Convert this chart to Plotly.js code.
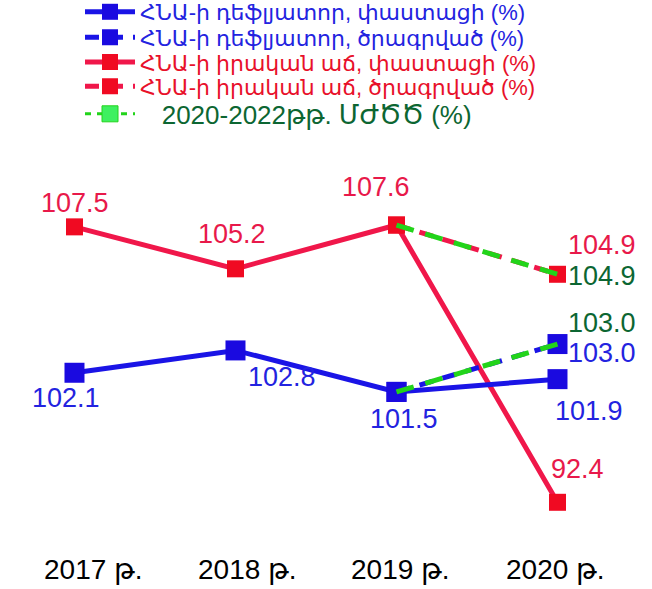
<!DOCTYPE html>
<html>
<head>
<meta charset="utf-8">
<script src="https://cdn.plot.ly/plotly-3.0.1.min.js"></script>
<style>html,body{margin:0;padding:0;background:#fff;}#chart{width:652px;height:589px;}</style>
</head>
<body>
<div id="chart"></div>
<script>
// ---- data ----
const categories = ['2017', '2018', '2019', '2020'];
const tickLabels = ['2017 թ.', '2018 թ.', '2019 թ.', '2020 թ.'];
const projCategories = ['2019', '2020'];

const deflatorActual = [102.1, 102.8, 101.5, 101.9];
const deflatorProjected = [101.5, 103.0];
const growthActual = [107.5, 105.2, 107.6, 92.4];
const growthProjected = [107.6, 104.9];
const mtefGrowth = [107.6, 104.9];
const mtefDeflator = [101.5, 103.0];

const seriesNames = [
  'ՀՆԱ-ի դեֆլյատոր, փաստացի (%)',
  'ՀՆԱ-ի դեֆլյատոր, ծրագրված (%)',
  'ՀՆԱ-ի իրական աճ, փաստացի (%)',
  'ՀՆԱ-ի իրական աճ, ծրագրված (%)',
  '2020-2022թթ. ՄԺԾԾ (%)'
];

// ---- styles ----
const FONT = 'Liberation Sans, Arial, DejaVu Sans, sans-serif';
const BLUE_LINE = '#1a14e6', BLUE_MK = '#1a0ae0', BLUE_TXT = '#2323e0';
const RED_LINE = '#f0174a', RED_MK = '#f00a22', RED_TXT = '#e8194a', RED_LEG = '#e8102a';
const GREEN_LINE = '#22d41a', GREEN_TXT = '#0c6632';

const traces = [
  {x: categories, y: deflatorActual, yaxis: 'y2', name: seriesNames[0], legend: 'legend', mode: 'lines+markers',
   line: {color: BLUE_LINE, width: 5}, marker: {symbol: 'square', size: 20, color: BLUE_MK}},
  {x: projCategories, y: deflatorProjected, yaxis: 'y2', name: seriesNames[1], legend: 'legend2', mode: 'lines+markers',
   line: {color: BLUE_LINE, width: 5, dash: '14px,10px'}, marker: {symbol: 'square', size: 20, color: BLUE_MK}},
  {x: categories, y: growthActual, yaxis: 'y', name: seriesNames[2], legend: 'legend3', mode: 'lines+markers',
   line: {color: RED_LINE, width: 5}, marker: {symbol: 'square', size: 17, color: RED_MK}},
  {x: projCategories, y: growthProjected, yaxis: 'y', name: seriesNames[3], legend: 'legend4', mode: 'lines+markers',
   line: {color: RED_LINE, width: 5, dash: '14px,10px'}, marker: {symbol: 'square', size: 17, color: RED_MK}},
  {x: projCategories, y: mtefGrowth, yaxis: 'y', showlegend: false, mode: 'lines', hoverinfo: 'skip',
   line: {color: GREEN_LINE, width: 5, dash: '18px,12px'}},
  {x: projCategories, y: mtefDeflator, yaxis: 'y2', showlegend: false, mode: 'lines', hoverinfo: 'skip',
   line: {color: GREEN_LINE, width: 5, dash: '18px,12px'}},
  // legend entry for the MTEF series
  {x: [null], y: [null], yaxis: 'y', mode: 'lines+markers', legend: 'legend5',
   name: '\u00a0\u00a0\u00a0' + seriesNames[4],
   line: {color: GREEN_LINE, width: 3, dash: '6px,6px'},
   marker: {symbol: 'square', size: 16, color: '#3ef060', line: {color: '#22d41a', width: 1}}}
];

// value labels (pixel offsets from the point)
function lab(cat, y, yref, color, xs, ys) {
  return {x: categories.indexOf(cat), y: y, xref: 'x', yref: yref, text: y.toFixed(1), showarrow: false,
          xshift: xs, yshift: ys, font: {family: FONT, size: 27, color: color}};
}
const annotations = [
  lab(categories[0], growthActual[0], 'y', RED_TXT, 1, 24),
  lab(categories[1], growthActual[1], 'y', RED_TXT, -3, 35),
  lab(categories[2], growthActual[2], 'y', RED_TXT, -20, 38),
  lab(categories[3], growthActual[3], 'y', RED_TXT, 20, 33),
  lab(categories[0], deflatorActual[0], 'y2', BLUE_TXT, -8, -25),
  lab(categories[1], deflatorActual[1], 'y2', BLUE_TXT, 47, -27),
  lab(categories[2], deflatorActual[2], 'y2', BLUE_TXT, 8, -27),
  lab(categories[3], deflatorActual[3], 'y2', BLUE_TXT, 32, -32),
  lab(projCategories[1], growthProjected[1], 'y', RED_TXT, 45, 29),
  lab(projCategories[1], mtefGrowth[1], 'y', GREEN_TXT, 45, -2),
  lab(projCategories[1], mtefDeflator[1], 'y2', GREEN_TXT, 45, 21),
  lab(projCategories[1], deflatorProjected[1], 'y2', BLUE_TXT, 45, -9)
];
// category labels under the plot
const tickShift = [19, 12.5, 4.5, -1.5];
categories.forEach(function (c, i) {
  annotations.push({x: i, y: 0, xref: 'x', yref: 'paper', yanchor: 'middle', text: tickLabels[i],
                    showarrow: false, xshift: tickShift[i], yshift: -16.5,
                    font: {family: FONT, size: 28, color: '#000'}});
});

function leg(y, color, size) {
  return {x: 80 / 652, xanchor: 'left', y: y, yanchor: 'middle', bgcolor: 'rgba(0,0,0,0)',
          font: {family: FONT, size: size, color: color}, itemwidth: 50};
}

const layout = {
  width: 652, height: 589,
  margin: {l: 0, r: 0, t: 130, b: 36, autoexpand: false},
  paper_bgcolor: '#ffffff', plot_bgcolor: 'rgba(0,0,0,0)',
  font: {family: FONT, color: '#000'},
  showlegend: true,
  legend: leg(1.2790, BLUE_TXT, 22),
  legend2: leg(1.2190, BLUE_TXT, 22),
  legend3: leg(1.1600, RED_LEG, 22),
  legend4: leg(1.1030, RED_LEG, 22),
  legend5: leg(1.0380, GREEN_TXT, 26),
  xaxis: {type: 'category', range: [-0.4627, 3.587], showticklabels: false,
          showgrid: false, zeroline: false, showline: false, ticks: ''},
  yaxis: {range: [89.62, 112.81], showgrid: false, zeroline: false, showticklabels: false, showline: false},
  yaxis2: {range: [96.45, 109.71], overlaying: 'y', side: 'right', showgrid: false, zeroline: false,
           showticklabels: false, showline: false},
  annotations: annotations
};

Plotly.newPlot('chart', traces, layout, {displayModeBar: false, staticPlot: true});
</script>
</body>
</html>
